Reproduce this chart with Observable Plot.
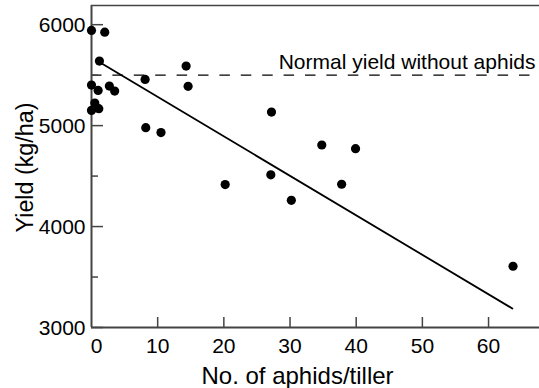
<!DOCTYPE html>
<html><head><meta charset="utf-8">
<script src="https://cdn.jsdelivr.net/npm/d3@7"></script>
<script src="https://cdn.jsdelivr.net/npm/@observablehq/plot@0.6"></script>
<style>html,body{margin:0;padding:0;background:#fff}</style>
</head><body><div id="chart"></div>
<script>
// Data
const aphids = [0.0, 2.0, 1.2, 0.0, 1.0, 2.7, 3.5, 0.5, 0.0, 1.1, 8.2, 10.5, 8.1, 14.3, 14.6, 20.2, 27.2, 27.1, 30.2, 34.8, 39.9, 37.8, 63.7];
const yields = [5943, 5926, 5639, 5402, 5349, 5392, 5342, 5224, 5151, 5168, 4980, 4931, 5458, 5590, 5389, 4416, 5134, 4513, 4260, 4808, 4772, 4419, 3607];
const fitX = [1.3, 63.6];
const fitY = [5625, 3188];
const normalYield = 5500;
const normalLabel = "Normal yield without aphids";
const xTicks = [10, 20, 30, 40, 50, 60];
const xZero = [0];
const yMajor = [3000, 4000, 5000, 6000];
const yMinor = [3500, 4500, 5500];
const xTitle = "No. of aphids/tiller";
const yTitle = "Yield (kg/ha)";

const points = aphids.map((x, i) => ({x, y: yields[i]}));
const fit = fitX.map((x, i) => ({x, y: fitY[i]}));
const axisColor = "#444";
const font = "'Liberation Sans', Arial, Helvetica, sans-serif";

const chart = Plot.plot({
  width: 539, height: 388,
  marginLeft: 91, marginRight: 0, marginTop: 5, marginBottom: 61,
  style: {fontFamily: font, background: "#fff", color: "#000", overflow: "visible"},
  x: {domain: [0, 67.7], label: null},
  y: {domain: [3000, 6190], label: null},
  marks: [
    Plot.ruleY([normalYield], {stroke: "#000", strokeWidth: 1.4, strokeDasharray: "10.5,10.9"}),
    Plot.text([{y: normalYield, t: normalLabel}], {y: "y", text: "t", frameAnchor: "right", textAnchor: "end", lineAnchor: "bottom", dx: -4, dy: -6.5, fontSize: 21, fill: "#000"}),
    Plot.ruleY([6190], {stroke: axisColor, strokeWidth: 1.5}),
    Plot.ruleY([3000], {stroke: axisColor, strokeWidth: 2}),
    Plot.ruleX([0], {stroke: axisColor, strokeWidth: 2}),
    Plot.axisY(yMajor, {tickSize: -12, tickFormat: () => "", stroke: axisColor, strokeWidth: 1.5}),
    Plot.axisY(yMinor, {tickSize: -7, tickFormat: () => "", stroke: axisColor, strokeWidth: 1.5}),
    Plot.axisY(yMajor, {tickSize: 0, tickPadding: 6, fontSize: 21, dy: 1, tickFormat: d => String(d)}),
    Plot.axisX(xTicks, {tickSize: -10, tickFormat: () => "", stroke: axisColor, strokeWidth: 1.5}),
    Plot.axisX(xTicks, {tickSize: 0, tickPadding: 11, fontSize: 21, tickFormat: d => String(d)}),
    Plot.axisX(xZero, {tickSize: 0, tickPadding: 11, fontSize: 21, dx: 5, tickFormat: d => String(d)}),
    Plot.text([xTitle], {frameAnchor: "bottom", textAnchor: "middle", lineAnchor: "bottom", dx: -18, dy: 56, fontSize: 24, fill: "#000"}),
    Plot.text([yTitle], {frameAnchor: "left", textAnchor: "middle", lineAnchor: "bottom", rotate: -90, dx: -59, dy: 1, fontSize: 23.3, fill: "#000"}),
    Plot.line(fit, {x: "x", y: "y", stroke: "#000", strokeWidth: 1.8}),
    Plot.dot(points, {x: "x", y: "y", r: 4.6, fill: "#000"})
  ]
});
document.getElementById("chart").appendChild(chart);
</script>
</body></html>
